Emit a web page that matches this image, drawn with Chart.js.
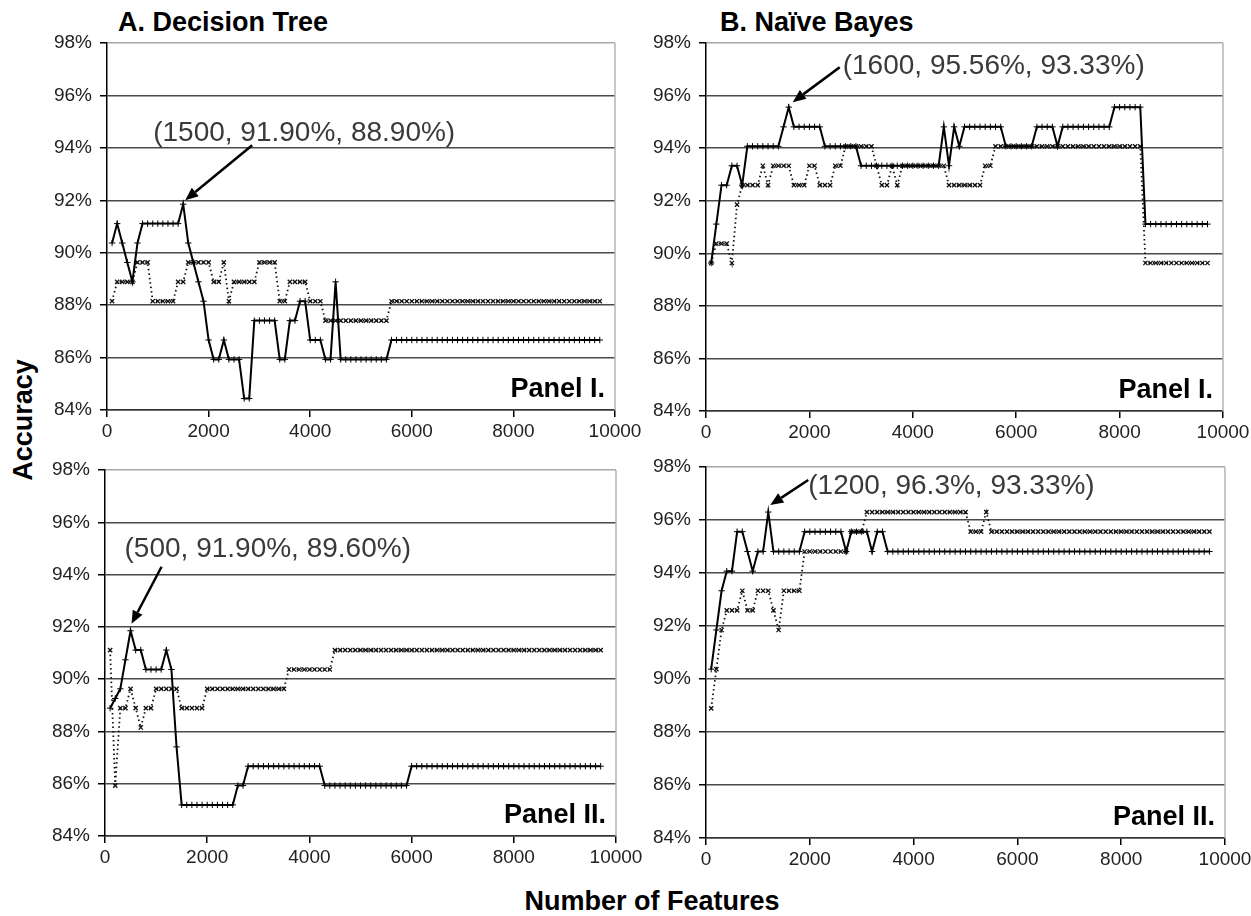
<!DOCTYPE html>
<html><head><meta charset="utf-8">
<script src="https://cdn.jsdelivr.net/npm/chart.js@4.4.1/dist/chart.umd.min.js"></script>
<style>
html,body{margin:0;padding:0;background:#fff;overflow:hidden;}
body{width:1251px;height:916px;position:relative;font-family:Arial,'Liberation Sans',sans-serif;}
canvas{position:absolute;}
.lbl{position:absolute;font-weight:bold;color:#000;white-space:nowrap;line-height:1;font-size:27px;}
</style></head><body>
<div class="lbl" style="left:118px;top:9px;">A. Decision Tree</div>
<div class="lbl" style="left:720px;top:9px;">B. Naïve Bayes</div>
<div class="lbl" style="left:23px;top:420px;transform:translate(-50%,-50%) rotate(-90deg);">Accuracy</div>
<div class="lbl" style="left:652px;top:888px;transform:translateX(-50%);">Number of Features</div>
<canvas id="c1"></canvas><canvas id="c2"></canvas><canvas id="c3"></canvas><canvas id="c4"></canvas>
<script>
// ---------------- data ----------------
const features = [100,200,300,400,500,600,700,800,900,1000,
1100,1200,1300,1400,1500,1600,1700,1800,1900,2000,
2100,2200,2300,2400,2500,2600,2700,2800,2900,3000,
3100,3200,3300,3400,3500,3600,3700,3800,3900,4000,
4100,4200,4300,4400,4500,4600,4700,4800,4900,5000,
5100,5200,5300,5400,5500,5600,5700,5800,5900,6000,
6100,6200,6300,6400,6500,6600,6700,6800,6900,7000,
7100,7200,7300,7400,7500,7600,7700,7800,7900,8000,
8100,8200,8300,8400,8500,8600,8700,8800,8900,9000,
9100,9200,9300,9400,9500,9600,9700];

const xTickValues = [0,2000,4000,6000,8000,10000];
const yTickValues = [84,86,88,90,92,94,96,98];

// A. Decision Tree, Panel I
const dtSolid1 = [90.37,91.11,90.37,89.63,88.89,90.37,91.11,91.11,91.11,91.11,
91.11,91.11,91.11,91.11,91.85,90.37,89.63,88.89,88.15,86.67,
85.93,85.93,86.67,85.93,85.93,85.93,84.44,84.44,87.41,87.41,
87.41,87.41,87.41,85.93,85.93,87.41,87.41,88.15,88.15,86.67,
86.67,86.67,85.93,85.93,88.89,85.93,85.93,85.93,85.93,85.93,
85.93,85.93,85.93,85.93,85.93,86.67,86.67,86.67,86.67,86.67,
86.67,86.67,86.67,86.67,86.67,86.67,86.67,86.67,86.67,86.67,
86.67,86.67,86.67,86.67,86.67,86.67,86.67,86.67,86.67,86.67,
86.67,86.67,86.67,86.67,86.67,86.67,86.67,86.67,86.67,86.67,
86.67,86.67,86.67,86.67,86.67,86.67,86.67];
const dtDot1 = [88.15,88.89,88.89,88.89,88.89,89.63,89.63,89.63,88.15,88.15,
88.15,88.15,88.15,88.89,88.89,89.63,89.63,89.63,89.63,89.63,
88.89,88.89,89.63,88.15,88.89,88.89,88.89,88.89,88.89,89.63,
89.63,89.63,89.63,88.15,88.15,88.89,88.89,88.89,88.89,88.15,
88.15,88.15,87.41,87.41,87.41,87.41,87.41,87.41,87.41,87.41,
87.41,87.41,87.41,87.41,87.41,88.15,88.15,88.15,88.15,88.15,
88.15,88.15,88.15,88.15,88.15,88.15,88.15,88.15,88.15,88.15,
88.15,88.15,88.15,88.15,88.15,88.15,88.15,88.15,88.15,88.15,
88.15,88.15,88.15,88.15,88.15,88.15,88.15,88.15,88.15,88.15,
88.15,88.15,88.15,88.15,88.15,88.15,88.15];

// B. Naive Bayes, Panel I
const nbSolid1 = [89.63,91.11,92.59,92.59,93.33,93.33,92.59,94.07,94.07,94.07,
94.07,94.07,94.07,94.07,94.81,95.56,94.81,94.81,94.81,94.81,
94.81,94.81,94.07,94.07,94.07,94.07,94.07,94.07,94.07,93.33,
93.33,93.33,93.33,93.33,93.33,93.33,93.33,93.33,93.33,93.33,
93.33,93.33,93.33,93.33,93.33,94.81,93.33,94.81,94.07,94.81,
94.81,94.81,94.81,94.81,94.81,94.81,94.81,94.07,94.07,94.07,
94.07,94.07,94.07,94.81,94.81,94.81,94.81,94.07,94.81,94.81,
94.81,94.81,94.81,94.81,94.81,94.81,94.81,94.81,95.56,95.56,
95.56,95.56,95.56,95.56,91.11,91.11,91.11,91.11,91.11,91.11,
91.11,91.11,91.11,91.11,91.11,91.11,91.11];
const nbDot1 = [89.63,90.37,90.37,90.37,89.63,91.85,92.59,92.59,92.59,92.59,
93.33,92.59,93.33,93.33,93.33,93.33,92.59,92.59,92.59,93.33,
93.33,92.59,92.59,92.59,93.33,93.33,94.07,94.07,94.07,94.07,
94.07,94.07,93.33,92.59,92.59,93.33,92.59,93.33,93.33,93.33,
93.33,93.33,93.33,93.33,93.33,93.33,92.59,92.59,92.59,92.59,
92.59,92.59,92.59,93.33,93.33,94.07,94.07,94.07,94.07,94.07,
94.07,94.07,94.07,94.07,94.07,94.07,94.07,94.07,94.07,94.07,
94.07,94.07,94.07,94.07,94.07,94.07,94.07,94.07,94.07,94.07,
94.07,94.07,94.07,94.07,89.63,89.63,89.63,89.63,89.63,89.63,
89.63,89.63,89.63,89.63,89.63,89.63,89.63];

// A. Decision Tree, Panel II
const dtSolid2 = [88.89,89.26,89.63,90.74,91.85,91.11,91.11,90.37,90.37,90.37,
90.37,91.11,90.37,87.41,85.19,85.19,85.19,85.19,85.19,85.19,
85.19,85.19,85.19,85.19,85.19,85.93,85.93,86.67,86.67,86.67,
86.67,86.67,86.67,86.67,86.67,86.67,86.67,86.67,86.67,86.67,
86.67,86.67,85.93,85.93,85.93,85.93,85.93,85.93,85.93,85.93,
85.93,85.93,85.93,85.93,85.93,85.93,85.93,85.93,85.93,86.67,
86.67,86.67,86.67,86.67,86.67,86.67,86.67,86.67,86.67,86.67,
86.67,86.67,86.67,86.67,86.67,86.67,86.67,86.67,86.67,86.67,
86.67,86.67,86.67,86.67,86.67,86.67,86.67,86.67,86.67,86.67,
86.67,86.67,86.67,86.67,86.67,86.67,86.67];
const dtDot2 = [91.11,85.93,88.89,88.89,89.63,88.89,88.15,88.89,88.89,89.63,
89.63,89.63,89.63,89.63,88.89,88.89,88.89,88.89,88.89,89.63,
89.63,89.63,89.63,89.63,89.63,89.63,89.63,89.63,89.63,89.63,
89.63,89.63,89.63,89.63,89.63,90.37,90.37,90.37,90.37,90.37,
90.37,90.37,90.37,90.37,91.11,91.11,91.11,91.11,91.11,91.11,
91.11,91.11,91.11,91.11,91.11,91.11,91.11,91.11,91.11,91.11,
91.11,91.11,91.11,91.11,91.11,91.11,91.11,91.11,91.11,91.11,
91.11,91.11,91.11,91.11,91.11,91.11,91.11,91.11,91.11,91.11,
91.11,91.11,91.11,91.11,91.11,91.11,91.11,91.11,91.11,91.11,
91.11,91.11,91.11,91.11,91.11,91.11,91.11];

// B. Naive Bayes, Panel II
const nbSolid2 = [90.37,91.85,93.33,94.07,94.07,95.56,95.56,94.81,94.07,94.81,
94.81,96.30,94.81,94.81,94.81,94.81,94.81,94.81,95.56,95.56,
95.56,95.56,95.56,95.56,95.56,95.56,94.81,95.56,95.56,95.56,
95.56,94.81,95.56,95.56,94.81,94.81,94.81,94.81,94.81,94.81,
94.81,94.81,94.81,94.81,94.81,94.81,94.81,94.81,94.81,94.81,
94.81,94.81,94.81,94.81,94.81,94.81,94.81,94.81,94.81,94.81,
94.81,94.81,94.81,94.81,94.81,94.81,94.81,94.81,94.81,94.81,
94.81,94.81,94.81,94.81,94.81,94.81,94.81,94.81,94.81,94.81,
94.81,94.81,94.81,94.81,94.81,94.81,94.81,94.81,94.81,94.81,
94.81,94.81,94.81,94.81,94.81,94.81,94.81];
const nbDot2 = [88.89,90.37,91.85,92.59,92.59,92.59,93.33,92.59,92.59,93.33,
93.33,93.33,92.59,91.85,93.33,93.33,93.33,93.33,94.81,94.81,
94.81,94.81,94.81,94.81,94.81,94.81,94.81,95.56,95.56,95.56,
96.30,96.30,96.30,96.30,96.30,96.30,96.30,96.30,96.30,96.30,
96.30,96.30,96.30,96.30,96.30,96.30,96.30,96.30,96.30,96.30,
95.56,95.56,95.56,96.30,95.56,95.56,95.56,95.56,95.56,95.56,
95.56,95.56,95.56,95.56,95.56,95.56,95.56,95.56,95.56,95.56,
95.56,95.56,95.56,95.56,95.56,95.56,95.56,95.56,95.56,95.56,
95.56,95.56,95.56,95.56,95.56,95.56,95.56,95.56,95.56,95.56,
95.56,95.56,95.56,95.56,95.56,95.56,95.56];

const panelLabels = ['Panel I.','Panel I.','Panel II.','Panel II.'];
const annotationTexts = ['(1500, 91.90%, 88.90%)','(1600, 95.56%, 93.33%)','(500, 91.90%, 89.60%)','(1200, 96.3%, 93.33%)'];
const annotationPoints = [[1500,91.85],[1600,95.56],[500,91.85],[1200,96.30]];

// ---------------- drawing ----------------
const FONT = "Arial, 'Liberation Sans', sans-serif";

const decorPlugin = {
  id: 'decor',
  afterDraw(chart, args, o) {
    const {ctx, chartArea: a, scales} = chart;
    ctx.save();
    ctx.strokeStyle = '#b4b4b4'; ctx.lineWidth = 1.5;
    ctx.beginPath(); ctx.moveTo(a.right, a.top); ctx.lineTo(a.right, a.bottom); ctx.stroke();
    ctx.fillStyle = '#000';
    ctx.font = 'bold 27px ' + FONT;
    ctx.textAlign = 'right'; ctx.textBaseline = 'alphabetic';
    ctx.fillText(o.panel, a.right - 10, a.bottom - 13);
    const px = scales.x.getPixelForValue(o.pt[0]);
    const py = scales.y.getPixelForValue(o.pt[1]);
    const tx = px + o.tip[0], ty = py + o.tip[1];
    const sx = px + o.tail[0], sy = py + o.tail[1];
    const ang = Math.atan2(ty - sy, tx - sx);
    const hl = 13, hw = 5.5;
    const bx = tx - hl * Math.cos(ang), by = ty - hl * Math.sin(ang);
    ctx.strokeStyle = '#000'; ctx.lineWidth = 2.5;
    ctx.beginPath(); ctx.moveTo(sx, sy); ctx.lineTo(bx, by); ctx.stroke();
    ctx.fillStyle = '#000';
    ctx.beginPath();
    ctx.moveTo(tx, ty);
    ctx.lineTo(bx + hw * Math.sin(ang), by - hw * Math.cos(ang));
    ctx.lineTo(bx - hw * Math.sin(ang), by + hw * Math.cos(ang));
    ctx.closePath(); ctx.fill();
    ctx.fillStyle = '#3a3a3a';
    ctx.font = '28px ' + FONT;
    ctx.textAlign = 'left';
    ctx.fillText(o.text, px + o.textAt[0], py + o.textAt[1]);
    ctx.restore();
  }
};

function makePanel(id, box, solid, dotted, idx, tip, tail, textAt) {
  const PL = 100, PT = 20, PR = 36, PB = 60;
  const cv = document.getElementById(id);
  cv.width = box.r - box.l + PL + PR;
  cv.height = box.b - box.t + PT + PB;
  cv.style.left = (box.l - PL) + 'px';
  cv.style.top = (box.t - PT) + 'px';
  new Chart(cv, {
    type: 'line',
    data: {
      datasets: [
        {
          data: features.map((f, i) => ({x: f, y: solid[i]})),
          borderColor: '#000', borderWidth: 2, tension: 0, fill: false,
          pointStyle: 'cross', pointRadius: 3.2, pointBorderColor: '#000', pointBorderWidth: 1
        },
        {
          data: features.map((f, i) => ({x: f, y: dotted[i]})),
          borderColor: '#111', borderWidth: 1.8, borderDash: [1.5, 3], tension: 0, fill: false,
          pointStyle: 'crossRot', pointRadius: 3, pointBorderColor: '#111', pointBorderWidth: 1.3
        }
      ]
    },
    options: {
      responsive: false, animation: false, devicePixelRatio: 1, events: [],
      layout: {padding: {left: 0, top: PT, right: PR, bottom: 0}},
      plugins: {
        legend: {display: false}, tooltip: {enabled: false},
        decor: {panel: panelLabels[idx], text: annotationTexts[idx], pt: annotationPoints[idx], tip, tail, textAt}
      },
      scales: {
        x: {
          type: 'linear', min: 0, max: 10000,
          afterFit(s) { s.height = PB; },
          afterBuildTicks(s) { s.ticks = xTickValues.map(v => ({value: v})); },
          ticks: {autoSkip: false, maxRotation: 0, color: '#222', padding: 3, font: {size: 19, family: FONT},
                  callback: v => String(v)},
          grid: {drawOnChartArea: false, drawTicks: true, tickLength: 7, color: '#000', lineWidth: 1.5},
          border: {display: true, color: '#333', width: 1.5}
        },
        y: {
          min: 84, max: 98,
          afterFit(s) { s.width = PL; },
          afterBuildTicks(s) { s.ticks = yTickValues.map(v => ({value: v})); },
          ticks: {color: '#222', padding: 8, font: {size: 19, family: FONT}, callback: v => v + '%'},
          grid: {
            color: c => (c.tick && c.tick.value === 98) ? '#a8a8a8' : '#4a4a4a',
            lineWidth: 1.5, drawTicks: true, tickLength: 7, tickColor: '#000'
          },
          border: {display: true, color: '#000', width: 1.5}
        }
      }
    },
    plugins: [decorPlugin]
  });
}

makePanel('c1', {l: 107, r: 615, t: 43, b: 410}, dtSolid1, dtDot1, 0, [2, -4], [69, -59], [-30, -63]);
makePanel('c2', {l: 706, r: 1223, t: 43, b: 411}, nbSolid1, nbDot1, 1, [4, -5], [51, -40], [54, -33]);
makePanel('c3', {l: 105, r: 616, t: 470, b: 836}, dtSolid2, dtDot2, 2, [1, -7], [31, -64], [-6, -74]);
makePanel('c4', {l: 706, r: 1225, t: 467, b: 838}, nbSolid2, nbDot2, 3, [2, -7], [40, -32], [40, -18]);
</script>
</body></html>
